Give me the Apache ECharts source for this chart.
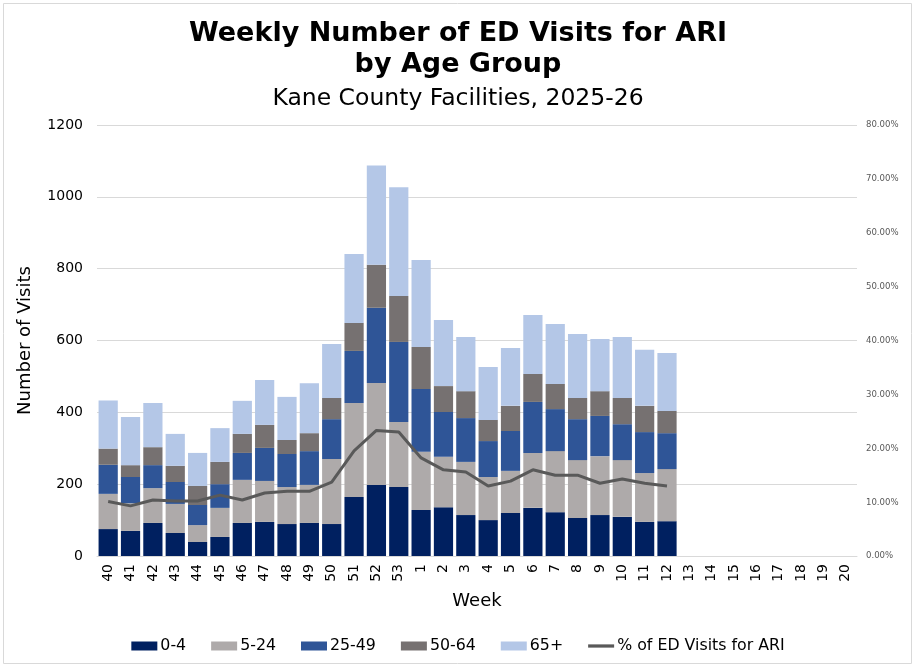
<!DOCTYPE html>
<html>
<head>
<meta charset="utf-8">
<script src="https://cdn.jsdelivr.net/npm/echarts@6/dist/echarts.min.js"></script>
<style>
  html, body { margin: 0; padding: 0; background: #fff; }
  #root { width: 916px; height: 668px; }
</style>
</head>
<body>
<div id="root"></div>
<script>
// weeks of the 2025-26 season
const weeks = ["40","41","42","43","44","45","46","47","48","49","50","51","52","53",
  "1","2","3","4","5","6","7","8","9","10","11","12","13","14","15","16","17","18","19","20"];

// visits per age group
const age0to4 =   [75, 70, 92, 64, 39, 53, 92, 95, 89, 92, 89, 164, 198, 192, 128, 136, 114, 100, 120, 134, 122, 106, 114, 109, 95, 97];
const age5to24 =  [98, 77, 97, 81, 47, 81, 120, 114, 103, 106, 181, 262, 284, 181, 162, 140, 148, 120, 117, 153, 170, 161, 164, 158, 136, 145];
const age25to49 = [81, 73, 64, 61, 56, 66, 75, 92, 92, 94, 111, 145, 209, 223, 175, 125, 122, 100, 111, 142, 117, 114, 112, 100, 114, 100];
const age50to64 = [45, 33, 50, 45, 53, 62, 53, 64, 39, 50, 59, 78, 120, 128, 117, 72, 75, 59, 70, 78, 70, 59, 69, 73, 73, 62];
const age65plus = [134, 134, 123, 89, 92, 94, 92, 125, 120, 139, 150, 192, 276, 303, 242, 184, 151, 147, 161, 164, 167, 178, 145, 170, 156, 161];

// percent of ED visits for ARI
const pctARI = [10.1, 9.3, 10.4, 10.2, 10.2, 11.3, 10.4, 11.7, 12.0, 12.0, 13.7, 19.5, 23.3, 23.0,
  18.2, 16.0, 15.6, 13.0, 13.9, 16.0, 15.0, 15.0, 13.5, 14.3, 13.5, 13.0];

const leftTicks = [0, 200, 400, 600, 800, 1000, 1200];

const font = "'DejaVu Sans', Verdana, sans-serif";
const narrow = "'DejaVu Sans Condensed', Tahoma, sans-serif";

const chart = echarts.init(document.getElementById("root"));

function bar(name, data, color) {
  return {
    name: name,
    type: "bar",
    stack: "visits",
    data: data,
    barCategoryGap: "14%",
    itemStyle: { color: color },
    emphasis: { disabled: true }
  };
}

chart.setOption({
  animation: false,
  textStyle: { fontFamily: font },
  graphic: [{
    type: "rect",
    shape: { x: 3.5, y: 3.5, width: 908, height: 660 },
    style: { fill: "none", stroke: "#d9d9d9", lineWidth: 1 },
    silent: true
  }],
  title: [
    {
      text: "Weekly Number of ED Visits for ARI\nby Age Group",
      left: "center",
      top: 13,
      textStyle: { fontSize: 27, fontWeight: "bold", color: "#000", lineHeight: 31, fontFamily: font }
    },
    {
      text: "Kane County Facilities, 2025-26",
      left: "center",
      top: 82,
      textStyle: { fontSize: 23.5, fontWeight: "normal", color: "#000", fontFamily: font }
    }
  ],
  legend: {
    top: 633,
    left: "center",
    itemWidth: 26,
    itemHeight: 9,
    itemGap: 25,
    textStyle: { fontSize: 15.8, color: "#000", fontFamily: font, padding: [0, 0, 0, -2] },
    data: [
      { name: "0-4", icon: "rect" },
      { name: "5-24", icon: "rect" },
      { name: "25-49", icon: "rect" },
      { name: "50-64", icon: "rect" },
      { name: "65+", icon: "rect" },
      { name: "% of ED Visits for ARI", icon: "path://M0,0 L24,0 L24,3 L0,3 Z" }
    ]
  },
  grid: { left: 97, right: 59, top: 125, bottom: 112 },
  xAxis: {
    type: "category",
    data: weeks,
    name: "Week",
    nameLocation: "middle",
    nameGap: 36,
    nameTextStyle: { fontSize: 18, color: "#000", fontFamily: font },
    axisTick: { show: false },
    axisLine: { lineStyle: { color: "#d9d9d9" } },
    axisLabel: { rotate: 90, fontSize: 14, color: "#000", margin: 8, interval: 0, fontFamily: font }
  },
  yAxis: [
    {
      type: "value",
      min: leftTicks[0],
      max: leftTicks[leftTicks.length - 1],
      interval: 200,
      name: "Number of Visits",
      nameLocation: "middle",
      nameGap: 63,
      nameTextStyle: { fontSize: 18, color: "#000", fontFamily: font },
      axisLine: { show: false },
      axisTick: { show: false },
      axisLabel: {
        fontSize: 14, color: "#000", margin: 14, fontFamily: font,
        formatter: function (v) { return String(v); }
      },
      splitLine: { lineStyle: { color: "#d9d9d9" } }
    },
    {
      type: "value",
      min: 0,
      max: 80,
      interval: 10,
      position: "right",
      axisLine: { show: false },
      axisTick: { show: false },
      splitLine: { show: false },
      axisLabel: {
        fontSize: 9.5,
        color: "#595959",
        margin: 9,
        fontFamily: narrow,
        formatter: function (v) { return v.toFixed(2) + "%"; }
      }
    }
  ],
  series: [
    bar("0-4", age0to4, "#002060"),
    bar("5-24", age5to24, "#AEAAAA"),
    bar("25-49", age25to49, "#2F5597"),
    bar("50-64", age50to64, "#767171"),
    bar("65+", age65plus, "#B4C7E7"),
    {
      name: "% of ED Visits for ARI",
      type: "line",
      yAxisIndex: 1,
      data: pctARI,
      symbol: "none",
      lineStyle: { color: "#595959", width: 3 },
      itemStyle: { color: "#595959" },
      emphasis: { disabled: true }
    }
  ]
});
</script>
</body>
</html>
